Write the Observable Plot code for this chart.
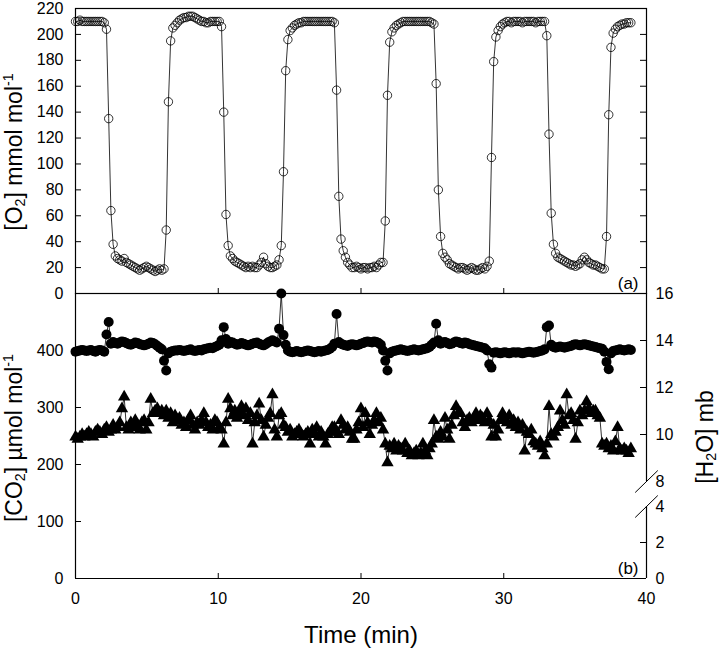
<!DOCTYPE html>
<html>
<head>
<meta charset="utf-8">
<script src="https://cdn.jsdelivr.net/npm/d3@7"></script>
<script src="https://cdn.jsdelivr.net/npm/@observablehq/plot@0.6"></script>
<style>
html,body{margin:0;padding:0;background:#fff;}
#wrap{position:relative;width:720px;height:649px;font-family:"Liberation Sans",Arial,Helvetica,sans-serif;color:#000;overflow:hidden;}
#wrap svg{position:absolute;left:0;top:0;}
.lab{position:absolute;white-space:nowrap;font-size:23px;line-height:1;transform:translate(-50%,-50%) rotate(-90deg);}
.lab sub{font-size:0.62em;vertical-align:-0.28em;line-height:0;}
.lab sup{font-size:0.62em;vertical-align:0.62em;line-height:0;}
.xlab{position:absolute;white-space:nowrap;font-size:24px;line-height:1;transform:translate(-50%,-50%);}
</style>
</head>
<body>
<div id="wrap"></div>
<script>
// ---------------- data ----------------
// sampling interval of the record (minutes)
const TIME_STEP = 0.155;

// (a) [O2] mmol mol-1
const O2 = [
 210,210,211,210,210,210,210,210,210,210,210,210,210,209,
 204,135,64,38,29,
 27,26,25,27,24,23,22,21,20,19,18,19,20,21,20,19,18,17,18,19,18,
 19,49,148,195,205,
 207,209,211,212,213,213,214,214,214,213,212,211,210,210,209,209,210,210,210,210,210,
 206,140,61,37,29,
 27,25,24,23,22,21,20,21,20,21,20,20,22,24,28,23,21,20,20,21,22,
 26,37,94,172,196,203,
 205,207,208,209,209,210,210,210,210,210,210,210,210,210,210,210,210,210,210,
 209,157,75,42,33,28,24,22,
 20,20,21,20,19,20,20,19,20,20,21,20,22,24,24,
 56,153,194,202,
 205,207,208,209,210,210,210,210,210,210,210,210,210,210,210,210,210,209,
 208,162,80,44,31,28,26,23,
 22,21,20,19,20,20,19,18,19,20,19,18,18,19,20,19,21,
 25,105,179,198,203,206,208,209,
 210,210,209,210,210,210,210,209,210,210,210,210,210,209,210,210,210,210,
 199,123,62,38,31,
 28,27,26,25,24,23,22,22,21,22,23,26,28,26,24,23,22,22,21,20,19,
 19,44,138,190,201,204,206,207,208,208,209,209,209
];

// (b) [CO2] umol mol-1 (filled circles, left axis)
const CO2 = [
 398,399,400,401,400,399,400,401,399,398,400,401,400,398,
 428,450,412,
 415,413,412,414,416,415,413,411,410,412,414,413,411,410,409,410,412,414,413,411,408,405,402,
 382,365,395,
 398,399,400,400,401,400,399,400,401,402,400,399,400,401,400,402,403,404,405,404,406,408,410,
 418,441,420,
 412,415,414,412,410,411,413,412,410,409,410,412,413,414,412,410,409,411,414,416,418,416,414,
 438,500,427,410,
 400,398,397,398,399,398,397,398,399,400,399,398,397,398,399,398,399,400,401,403,406,
 412,464,415,
 412,410,409,408,410,411,410,409,410,412,413,415,416,415,414,416,415,413,410,
 400,382,365,395,
 398,399,400,401,402,401,400,399,400,401,402,401,400,401,402,403,404,406,410,
 414,447,418,
 412,414,415,413,411,412,414,416,415,413,412,414,413,411,410,409,408,407,406,405,404,400,
 376,370,
 396,397,396,395,396,397,396,395,396,397,396,397,396,395,396,397,398,397,396,397,398,399,400,402,
 441,444,410,
 406,405,406,407,406,405,406,407,408,410,411,410,409,410,411,410,409,408,407,406,405,404,403,
 398,380,367,395,
 399,400,401,402,401,400,401,402,401
];

// (b) [H2O] mb (filled triangles, right axis)
const H2O = [
 9.9,9.8,9.9,10.0,9.9,10.0,10.1,10.0,9.9,10.1,10.2,10.1,10.0,10.2,
 10.3,10.1,10.2,10.4,10.2,10.3,10.5,11.1,11.6,10.3,10.2,10.5,10.3,10.6,
 10.4,10.2,10.5,10.6,10.2,10.5,
 11.5,
 10.9,11.0,11.1,10.9,11.0,10.8,11.0,10.7,10.9,10.5,10.8,10.6,10.7,10.4,
 10.5,10.3,10.6,10.8,10.4,10.2,10.5,10.4,10.6,10.9,10.5,10.3,10.4,10.2,10.6,10.5,10.3,
 10.2,9.6,10.5,
 11.5,11.1,10.8,11.0,10.7,10.9,11.2,10.8,11.1,10.6,10.9,
 9.6,
 10.5,10.8,11.3,10.6,9.9,10.4,10.7,10.9,11.7,10.2,9.9,10.8,10.9,10.4,
 10.3,10.1,10.2,9.9,10.0,10.1,10.2,10.0,9.9,10.0,10.1,9.6,10.2,10.0,10.3,9.9,10.1,
 9.9,9.6,10.0,10.1,10.3,10.3,10.1,10.0,10.6,10.4,10.2,10.3,10.1,9.8,
 9.8,10.2,10.5,11.1,10.3,10.9,10.5,10.0,10.4,10.6,10.9,10.5,10.7,10.2,
 9.6,8.8,
 9.5,9.4,9.6,9.3,9.5,9.4,9.3,9.6,9.2,9.3,9.1,9.2,9.3,9.1,9.2,9.6,9.3,9.1,9.4,9.6,
 10.6,9.9,9.8,10.1,9.9,10.7,10.2,9.8,10.4,10.8,11.2,10.9,10.9,10.5,10.3,10.6,10.7,10.5,10.6,10.9,
 10.6,10.8,10.7,10.5,10.9,10.6,9.9,10.4,9.9,10.2,10.6,10.9,10.7,10.5,
 10.8,10.4,10.6,10.3,10.5,10.2,10.4,9.3,10.1,10.0,10.2,9.7,9.6,9.5,9.7,9.4,
 9.1,9.6,11.2,
 10.0,9.9,10.1,10.3,11.0,10.6,10.4,11.7,10.8,10.9,10.6,9.8,10.5,11.0,10.8,11.0,
 11.4,11.1,10.9,11.0,11.0,10.8,10.7,
 9.6,
 9.5,9.6,9.4,9.5,9.3,9.7,10.3,9.4,9.3,9.4,9.3,9.2,9.4
];

// axes
const X_DOMAIN = [0, 40];
const X_TICKS = [0, 10, 20, 30, 40];
const X_INNER_TICKS = [10, 20, 30];
const O2_DOMAIN = [0, 220];
const O2_TICKS = [0, 20, 40, 60, 80, 100, 120, 140, 160, 180, 200, 220];
const CO2_DOMAIN = [0, 500];
const CO2_TICKS = [0, 100, 200, 300, 400];
const CO2_INNER_TICKS = [100, 200, 300, 400];
// broken H2O axis: lower part 0-4, upper part 8-16
const H2O_LOWER = [0, 4];
const H2O_UPPER = [8, 16];
const H2O_LOWER_TICKS = [0, 2, 4];
const H2O_UPPER_TICKS = [8, 10, 12, 14, 16];
const H2O_LOWER_INNER = [2];
const H2O_UPPER_INNER = [10, 12, 14];

// ---------------- layout ----------------
const W = 720, H = 649;
const ML = 75, MR = 74;
const PW = W - ML - MR;
const TOP_T = 8, MID = 293, BOT = 578;
const LOW_TOP = BOT - 72;   // pixel row of H2O = 4
const UP_BOT = BOT - 97;    // pixel row of H2O = 8
const FONT = '"Liberation Sans", Arial, Helvetica, sans-serif';
const baseStyle = {fontFamily: FONT, fontSize: "16px", color: "#000", background: "transparent", overflow: "visible"};

const toRows = (arr) => arr.map((v, i) => ({t: i * TIME_STEP, v}));
const o2 = toRows(O2), co2 = toRows(CO2), h2o = toRows(H2O);

const slash = {
  draw(ctx) { ctx.moveTo(-11.3, 11); ctx.lineTo(11.3, -11); }
};

// (a) panel
const topPlot = Plot.plot({
  width: W, height: MID + 7,
  marginLeft: ML, marginRight: MR, marginTop: TOP_T, marginBottom: 7,
  style: baseStyle,
  x: {domain: X_DOMAIN, axis: null},
  y: {domain: O2_DOMAIN, ticks: O2_TICKS, tickSize: 0, tickPadding: 12, label: null, tickFormat: d => String(d)},
  marks: [
    Plot.tickY(O2_TICKS, {y: d => d, insetRight: PW - 6, stroke: "#000"}),
    Plot.tickY(O2_TICKS, {y: d => d, insetLeft: PW - 6, stroke: "#000"}),
    Plot.tickX(X_INNER_TICKS, {x: d => d, insetTop: (MID - TOP_T) - 5, stroke: "#000"}),
    Plot.line(o2, {x: "t", y: "v", stroke: "#000", strokeWidth: 0.8}),
    Plot.dot(o2, {x: "t", y: "v", r: 4.2, stroke: "#000", fill: "none", strokeWidth: 0.8}),
    Plot.frame({stroke: "#000", strokeWidth: 1.2}),
    Plot.text(["(a)"], {frameAnchor: "bottom-right", dx: -8, dy: -5, fontSize: 17, textAnchor: "end", lineAnchor: "bottom"})
  ]
});

// (b) panel, CO2 on left axis
const botPlot = Plot.plot({
  width: W, height: H,
  marginLeft: ML, marginRight: MR, marginTop: MID, marginBottom: H - BOT,
  style: baseStyle,
  x: {domain: X_DOMAIN, ticks: X_TICKS, tickSize: 0, tickPadding: 14, label: null, tickFormat: d => String(d)},
  y: {domain: CO2_DOMAIN, ticks: CO2_TICKS, tickSize: 0, tickPadding: 12, label: null, tickFormat: d => String(d)},
  marks: [
    Plot.tickY(CO2_INNER_TICKS, {y: d => d, insetRight: PW - 6, stroke: "#000"}),
    Plot.tickX(X_INNER_TICKS, {x: d => d, insetTop: (BOT - MID) - 5, stroke: "#000"}),
    Plot.ruleX([X_DOMAIN[0]], {stroke: "#000", strokeWidth: 1.2}),
    Plot.ruleY([CO2_DOMAIN[0], CO2_DOMAIN[1]], {stroke: "#000", strokeWidth: 1.2}),
    Plot.line(co2, {x: "t", y: "v", stroke: "#000", strokeWidth: 0.8}),
    Plot.dot(co2, {x: "t", y: "v", r: 5, fill: "#000", stroke: "none"}),
    Plot.text(["(b)"], {frameAnchor: "bottom-right", dx: -8, dy: -5, fontSize: 17, textAnchor: "end", lineAnchor: "bottom"})
  ]
});

// (b) panel, H2O upper part of the right axis (8-16) with the data
const h2oUpper = Plot.plot({
  width: W, height: H,
  marginLeft: ML, marginRight: MR, marginTop: MID, marginBottom: H - UP_BOT,
  style: baseStyle,
  x: {domain: X_DOMAIN, axis: null},
  y: {domain: H2O_UPPER, axis: "right", ticks: H2O_UPPER_TICKS, tickSize: 0, tickPadding: 9, label: null, tickFormat: d => String(d)},
  marks: [
    Plot.tickY(H2O_UPPER_INNER, {y: d => d, insetLeft: PW - 6, stroke: "#000"}),
    Plot.ruleX([X_DOMAIN[1]], {stroke: "#000", strokeWidth: 1.2}),
    Plot.dot([H2O_UPPER[0]], {x: () => X_DOMAIN[1], y: d => d, symbol: slash, r: 5, stroke: "#000", fill: "none", strokeWidth: 1}),
    Plot.line(h2o, {x: "t", y: "v", stroke: "#000", strokeWidth: 0.8}),
    Plot.dot(h2o, {x: "t", y: "v", symbol: "triangle", r: 4.6, fill: "#000", stroke: "none"})
  ]
});

// (b) panel, H2O lower part of the right axis (0-4)
const h2oLower = Plot.plot({
  width: W, height: H,
  marginLeft: ML, marginRight: MR, marginTop: LOW_TOP, marginBottom: H - BOT,
  style: baseStyle,
  x: {domain: X_DOMAIN, axis: null},
  y: {domain: H2O_LOWER, axis: "right", ticks: H2O_LOWER_TICKS, tickSize: 0, tickPadding: 9, label: null, tickFormat: d => String(d)},
  marks: [
    Plot.tickY(H2O_LOWER_INNER, {y: d => d, insetLeft: PW - 6, stroke: "#000"}),
    Plot.ruleX([X_DOMAIN[1]], {stroke: "#000", strokeWidth: 1.2}),
    Plot.dot([H2O_LOWER[1]], {x: () => X_DOMAIN[1], y: d => d, symbol: slash, r: 5, stroke: "#000", fill: "none", strokeWidth: 1})
  ]
});

const wrap = document.getElementById("wrap");
wrap.appendChild(topPlot);
wrap.appendChild(botPlot);
wrap.appendChild(h2oUpper);
wrap.appendChild(h2oLower);

function addLabel(html, x, y, cls) {
  const d = document.createElement("div");
  d.className = cls;
  d.innerHTML = html;
  d.style.left = x + "px";
  d.style.top = y + "px";
  wrap.appendChild(d);
}
addLabel("[O<sub>2</sub>] mmol mol<sup>-1</sup>", 14, 152, "lab");
addLabel("[CO<sub>2</sub>] \u00b5mol mol<sup>-1</sup>", 14, 438, "lab");
addLabel("[H<sub>2</sub>O] mb", 705, 437, "lab");
addLabel("Time (min)", 361, 635, "xlab");
</script>
</body>
</html>
